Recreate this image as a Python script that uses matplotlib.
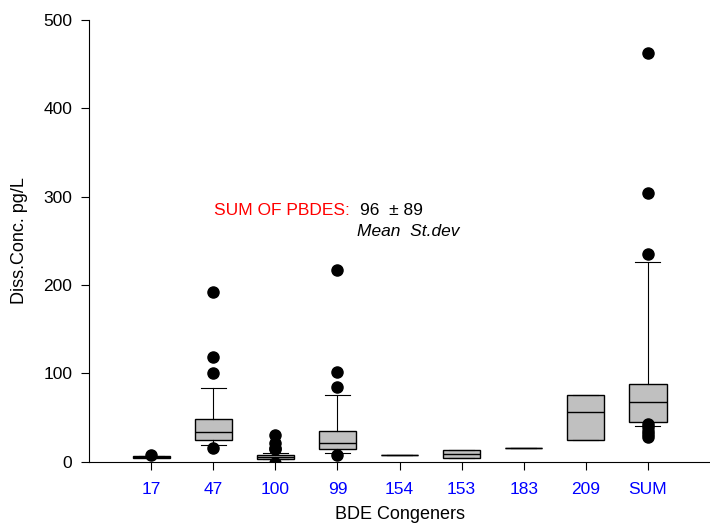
import matplotlib.pyplot as plt

plt.rcParams['font.family'] = ['Liberation Sans', 'DejaVu Sans']

congeners = ["17", "47", "100", "99", "154", "153", "183", "209", "SUM"]
q1 = [4.5, 24, 3, 14, 7.5, 4.2, 15, 24, 45]
med = [5.5, 34, 5, 21, 7.5, 8.7, 15, 55.7, 68]
q3 = [6.5, 48, 7.5, 35, 7.5, 13.3, 15, 75.8, 88.3]
whis_lo = [5, 18.5, 2.7, 10, 7.5, 4.2, 15, 24, 40]
whis_hi = [6, 83, 9.5, 76, 7.5, 13.3, 15, 75.8, 226]
outliers = [
    [7],
    [16, 100, 118, 192],
    [-1, 14, 16, 21, 30],
    [8, 84, 101, 217],
    [],
    [],
    [],
    [],
    [28, 31, 35, 39, 43, 235, 304, 463],
]

stats = []
for i in range(len(congeners)):
    stats.append({
        "med": med[i], "q1": q1[i], "q3": q3[i],
        "whislo": whis_lo[i], "whishi": whis_hi[i],
        "fliers": outliers[i], "label": congeners[i],
    })

fig = plt.figure(figsize=(7.1, 5.27), dpi=100)
ax = fig.add_axes([0.1254, 0.124, 0.8746, 0.838])

positions = list(range(1, len(congeners) + 1))
ax.bxp(stats, positions=positions, widths=0.6, patch_artist=True,
       boxprops=dict(facecolor="#c0c0c0", edgecolor="black", linewidth=1.0),
       medianprops=dict(color="black", linewidth=1.0),
       whiskerprops=dict(color="black", linewidth=0.8),
       capprops=dict(color="black", linewidth=0.8),
       capwidths=0.4,
       flierprops=dict(marker="o", markerfacecolor="black",
                       markeredgecolor="black", markersize=8))

ax.set_xlim(0, 10)
ax.set_ylim(0, 500)
ax.set_yticks([0, 100, 200, 300, 400, 500])
ax.set_xticks(positions)
ax.set_xticklabels(congeners, color="blue")
ax.tick_params(axis="both", labelsize=12.5, direction="out", length=6, width=0.8)
ax.tick_params(axis="x", pad=9)
ax.tick_params(axis="y", pad=6)
ax.spines["top"].set_visible(False)
ax.spines["right"].set_visible(False)

ax.set_xlabel("BDE Congeners", fontsize=13, labelpad=6)
ax.set_ylabel("Diss.Conc. pg/L", fontsize=13, labelpad=11)

ax.text(2.02, 284, "SUM OF PBDES:", color="red", fontsize=12.5, va="center")
ax.text(4.36, 284, "96  \u00b1 89", color="black", fontsize=12.5, va="center")
ax.text(4.32, 261, "Mean  St.dev", color="black", fontsize=12.5,
        style="italic", va="center")

fig.savefig("out.png", dpi=100)
